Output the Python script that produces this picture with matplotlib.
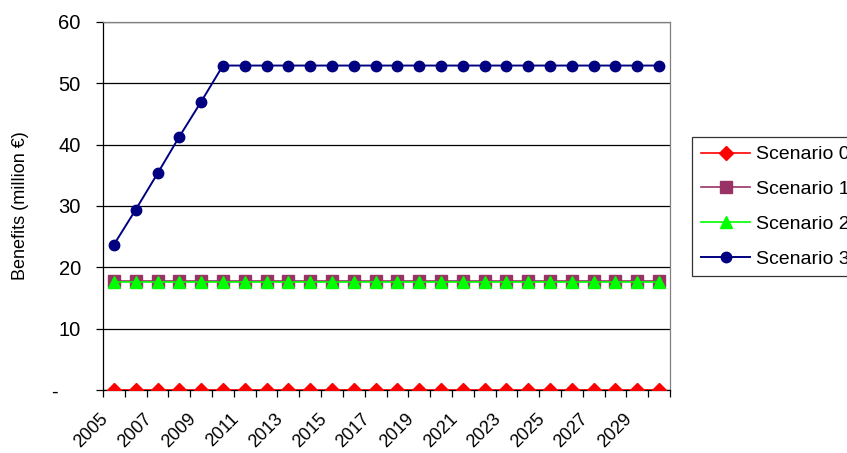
import matplotlib
matplotlib.use("Agg")
import matplotlib.pyplot as plt
import matplotlib.transforms as mtransforms
from matplotlib.ticker import FixedLocator, FuncFormatter

plt.rcParams['font.family'] = ['Liberation Sans', 'DejaVu Sans']

years = list(range(2005, 2031))
scenario_0 = [0.0] * 26
scenario_1 = [17.7] * 26
scenario_2 = [17.6] * 26
scenario_3 = [23.7, 29.4, 35.3, 41.3, 47.0] + [52.9] * 21
series_names = ["Scenario 0", "Scenario 1", "Scenario 2", "Scenario 3"]
y_ticks = [0, 10, 20, 30, 40, 50, 60]
x_label_years = list(range(2005, 2030, 2))

W, H = 847, 453
fig = plt.figure(figsize=(W / 100, H / 100), dpi=100)
ax = fig.add_axes([103 / W, 1 - 390 / H, (670 - 103) / W, (390 - 22) / H])

ax.plot(years, scenario_0, color="#FF0000", lw=1.2, marker="D", ms=7,
        mec="#FF0000", mfc="#FF0000", label=series_names[0], zorder=3)
ax.plot(years, scenario_1, color="#993366", lw=1.2, marker="s", ms=8,
        mec="#993366", mfc="#993366", label=series_names[1], zorder=3)
ax.plot(years, scenario_2, color="#00FF00", lw=1.2, marker="^", ms=8.5,
        mec="#00FF00", mfc="#00FF00", label=series_names[2], zorder=4)
ax.plot(years, scenario_3, color="#000080", lw=1.4, marker="o", ms=7.5,
        mec="#000080", mfc="#000080", label=series_names[3], zorder=3)

ax.set_xlim(years[0] - 0.5, years[-1] + 0.5)
ax.set_ylim(0, 60)

# y axis: gridlines, zero shown as a dash
ax.yaxis.set_major_locator(FixedLocator(y_ticks))
ax.yaxis.set_major_formatter(FuncFormatter(
    lambda v, p: "-    " if v == 0 else f"{v:.0f}"))
ax.yaxis.grid(True, color="black", lw=0.9)
ax.set_axisbelow(True)
ax.tick_params(axis="y", direction="out", length=5, width=0.9,
               labelsize=14.5, pad=11, color="black")
ax.set_ylabel("Benefits (million €)", fontsize=13)
ax.yaxis.set_label_coords(-0.131, 0.5)

# x axis: tick marks between categories, labels on every other year
ax.xaxis.set_minor_locator(FixedLocator([y - 0.5 for y in years] + [years[-1] + 0.5]))
ax.xaxis.set_major_locator(FixedLocator(x_label_years))
ax.tick_params(axis="x", which="minor", direction="out", length=5, width=0.9)
ax.tick_params(axis="x", which="major", length=0, labelsize=13, pad=19)
offset = mtransforms.ScaledTranslation(-8 / 100, 0, fig.dpi_scale_trans)
for lab in ax.get_xticklabels():
    lab.set_rotation(45)
    lab.set_ha("right")
    lab.set_va("center")
    lab.set_rotation_mode("anchor")
    lab.set_transform(lab.get_transform() + offset)

for side in ("left", "bottom"):
    ax.spines[side].set_color("black")
    ax.spines[side].set_linewidth(0.9)
for side in ("right", "top"):
    ax.spines[side].set_color("#808080")
    ax.spines[side].set_linewidth(0.9)

leg = fig.legend(loc="upper left", bbox_to_anchor=(692 / W, 1 - 137 / H),
                 borderaxespad=0, fontsize=14, frameon=True, fancybox=False,
                 edgecolor="black", handlelength=2.55, handletextpad=0.28,
                 borderpad=0.45, labelspacing=0.88)
leg.get_frame().set_linewidth(0.9)

fig.savefig("out.png", dpi=100)
